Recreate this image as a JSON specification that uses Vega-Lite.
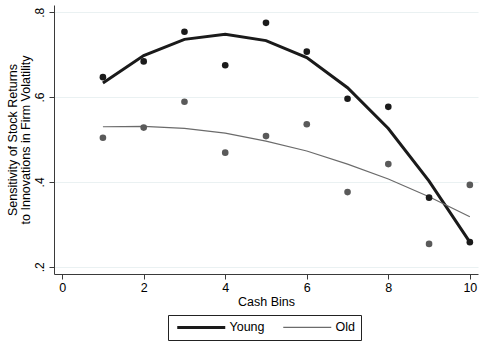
{
  "$schema": "https://vega.github.io/schema/vega-lite/v6.json",
  "autosize": "none",
  "width": 424,
  "height": 269,
  "padding": {"left": 54, "top": 5, "right": 1, "bottom": 69},
  "background": "white",
  "config": {
    "view": {"stroke": null},
    "font": "Liberation Sans",
    "axis": {
      "labelFont": "Liberation Sans",
      "titleFont": "Liberation Sans",
      "labelColor": "#000",
      "titleColor": "#000",
      "titleFontWeight": "normal",
      "domainColor": "#3a3a3a",
      "tickColor": "#3a3a3a",
      "tickSize": 5
    }
  },
  "data": {
    "values": [
      {"bin": 1, "series": "Young", "dot": 0.647, "fit": 0.633},
      {"bin": 2, "series": "Young", "dot": 0.684, "fit": 0.698},
      {"bin": 3, "series": "Young", "dot": 0.754, "fit": 0.736},
      {"bin": 4, "series": "Young", "dot": 0.675, "fit": 0.748},
      {"bin": 5, "series": "Young", "dot": 0.775, "fit": 0.733},
      {"bin": 6, "series": "Young", "dot": 0.707, "fit": 0.693},
      {"bin": 7, "series": "Young", "dot": 0.596, "fit": 0.622},
      {"bin": 8, "series": "Young", "dot": 0.577, "fit": 0.526},
      {"bin": 9, "series": "Young", "dot": 0.363, "fit": 0.402},
      {"bin": 10, "series": "Young", "dot": 0.258, "fit": 0.258},
      {"bin": 1, "series": "Old", "dot": 0.504, "fit": 0.530},
      {"bin": 2, "series": "Old", "dot": 0.528, "fit": 0.531},
      {"bin": 3, "series": "Old", "dot": 0.589, "fit": 0.526},
      {"bin": 4, "series": "Old", "dot": 0.469, "fit": 0.515},
      {"bin": 5, "series": "Old", "dot": 0.508, "fit": 0.496},
      {"bin": 6, "series": "Old", "dot": 0.536, "fit": 0.473},
      {"bin": 7, "series": "Old", "dot": 0.376, "fit": 0.442},
      {"bin": 8, "series": "Old", "dot": 0.442, "fit": 0.407},
      {"bin": 9, "series": "Old", "dot": 0.254, "fit": 0.365},
      {"bin": 10, "series": "Old", "dot": 0.393, "fit": 0.318}
    ]
  },
  "encoding": {
    "x": {
      "field": "bin",
      "type": "quantitative",
      "scale": {"domain": [-0.2, 10.2], "nice": false, "zero": false},
      "axis": {
        "title": "Cash Bins",
        "values": [0, 2, 4, 6, 8, 10],
        "grid": false,
        "labelFontSize": 12.5,
        "titleFontSize": 12.5,
        "labelPadding": 2,
        "titlePadding": 2
      }
    }
  },
  "layer": [
    {
      "mark": {"type": "line", "interpolate": "linear"},
      "encoding": {
        "y": {
          "field": "fit",
          "type": "quantitative",
          "scale": {"domain": [0.183, 0.817], "nice": false, "zero": false},
          "axis": {
            "title": ["Sensitivity of Stock Returns", "to Innovations in Firm Volatility"],
            "values": [0.2, 0.4, 0.6, 0.8],
            "labelExpr": "substring(format(datum.value, '.1f'), 1)",
            "labelAngle": -90,
            "labelAlign": "center",
            "labelBaseline": "bottom",
            "labelPadding": 3,
            "labelFontSize": 12,
            "titleFontSize": 12.5,
            "titleLineHeight": 13,
            "titlePadding": 1,
            "grid": true,
            "gridColor": "#eaf1f2",
            "gridWidth": 1.2
          }
        },
        "color": {
          "field": "series",
          "type": "nominal",
          "scale": {"domain": ["Young", "Old"], "range": ["#1a1a1a", "#6b6b6b"]},
          "legend": {
            "title": null,
            "orient": "none",
            "legendX": 114,
            "legendY": 310,
            "direction": "horizontal",
            "strokeColor": "#222",
            "fillColor": "white",
            "padding": 6,
            "symbolType": "M-1,0H15",
            "symbolSize": 36,
            "labelFontSize": 12.5,
            "labelColor": "#000",
            "labelOffset": 43,
            "columnPadding": 15
          }
        },
        "strokeWidth": {
          "field": "series",
          "type": "nominal",
          "scale": {"domain": ["Young", "Old"], "range": [3, 1.2]}
        },
        "detail": {"field": "series"}
      }
    },
    {
      "mark": {"type": "circle", "opacity": 1},
      "encoding": {
        "y": {"field": "dot", "type": "quantitative"},
        "fill": {
          "field": "series",
          "type": "nominal",
          "scale": {"domain": ["Young", "Old"], "range": ["#1a1a1a", "#5a5a5a"]},
          "legend": null
        },
        "size": {"value": 44}
      }
    }
  ]
}
